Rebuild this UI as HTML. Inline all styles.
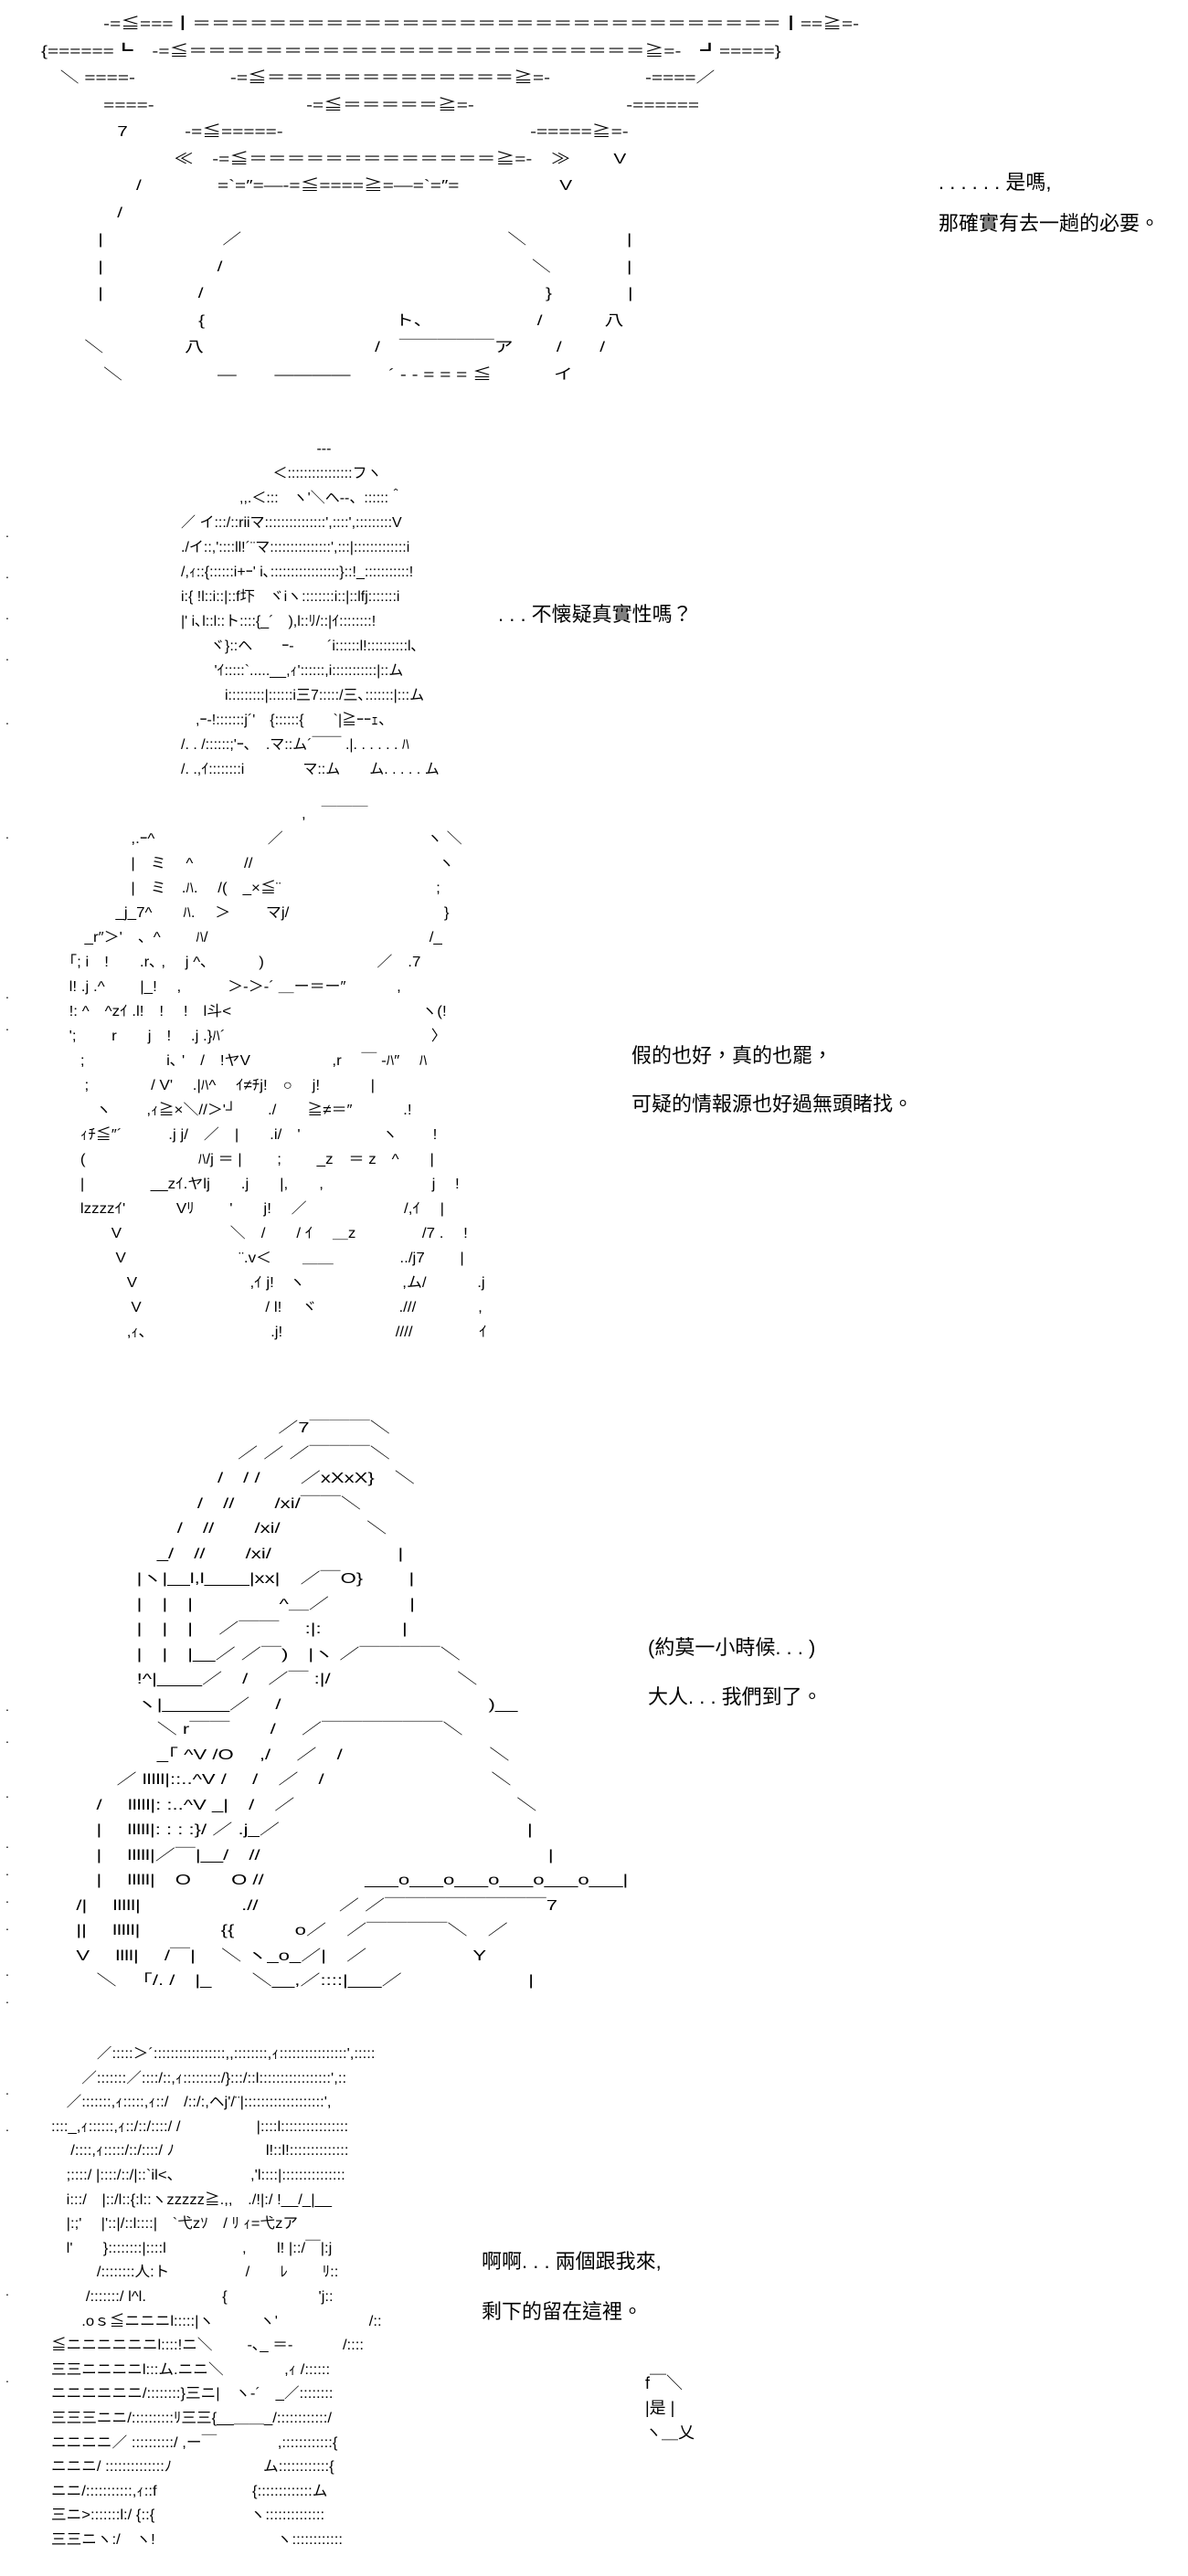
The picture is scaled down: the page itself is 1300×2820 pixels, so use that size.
<!DOCTYPE html>
<html><head><meta charset="utf-8">
<style>
html,body{margin:0;padding:0;background:#fff;}
body{width:1300px;height:2820px;position:relative;overflow:hidden;color:#000;}
pre{position:absolute;margin:0;font-family:"Liberation Sans","Noto Sans CJK JP",sans-serif;font-size:16px;line-height:27px;white-space:pre;transform-origin:0 0;}
.t{position:absolute;font-family:"Liberation Sans","Noto Sans CJK TC",sans-serif;font-size:22px;line-height:26px;white-space:nowrap;}
.d{position:absolute;left:6px;font-family:"Liberation Sans",sans-serif;font-size:14px;}
</style></head><body>

<pre style="left:45px;top:12px;line-height:29.5px;transform:scaleX(1.3);">　　　 -=≦===┃＝＝＝＝＝＝＝＝＝＝＝＝＝＝＝＝＝＝＝＝＝＝＝＝＝＝＝＝＝＝＝┃==≧=-
{======┗　-=≦＝＝＝＝＝＝＝＝＝＝＝＝＝＝＝＝＝＝＝＝＝＝＝＝≧=-　┛=====}
　＼ ====-　　　　　-=≦＝＝＝＝＝＝＝＝＝＝＝＝＝≧=-　　　　　-====／
　　　 ====-　　　　　　　　-=≦＝＝＝＝＝≧=-　　　　　　　　-======
　　　　7　　　-=≦=====-　　　　　　　　　　　　　-=====≧=-
　　　　　　　≪　-=≦＝＝＝＝＝＝＝＝＝＝＝＝＝≧=-　≫　　 V
　　　　　/　　　　=`=″=—-=≦====≧=—=`=″=　　　　　 V
　　　　/
　　　|　　　　　　 ／　　　　　　　　　　　　　　＼　　　　　 |
　　　|　　　　　　/　　　　　　　　　　　　　　　　 ＼　　　　|
　　　|　　　　　/　　　　　　　　　　　　　　　　　　}　　　　|
　　　　　　　　 {　　　　　　　　　　ト、　　　　　　/　　　 八
　　 ＼　　　　 八　　　　　　　　　/　￣￣￣￣￣ア　　 /　　/
　　　 ＼　　　　　—　　————　　´ - - = = = ≦　　　 イ</pre>

<pre style="left:182px;top:478px;">　　　　　　　　　　 ---
　　　　　　　 ＜::::::::::::::::フヽ
　　　　　,,.＜:::　ヽ'＼ヘ--、::::::＾
　／ イ:::/::riiマ:::::::::::::::',::::',:::::::::V
　./イ::,'::::ll!´¨マ:::::::::::::::',:::|:::::::::::::i
　/,ｨ::{::::::i+ｰ' i､:::::::::::::::::}::!_:::::::::::!
　i:{ !l::i::|::f圷　ヾiヽ::::::::i::|::lfj:::::::i
　|' i､l::l::ト::::{_´　),l::ﾘ/::|ｲ::::::::!
　　　ヾ}::ヘ　　ｰ-　　 ´i::::::l!::::::::::l､
　　　 'ｲ:::::`.....__,ｨ'::::::,i:::::::::::|::ム
　　　　i:::::::::|::::::i三7:::::/三､:::::::|:::ム
　　,ｰ-!:::::::j´'　{::::::{　　`|≧ｰｰｪ、
　/. . /::::::;'ｰ､　.マ::ム´￣￣ .|. . . . . . ﾊ
　/. .,ｲ::::::::i　　　　マ::ム　　ム. . . . . ム</pre>

<pre style="left:20px;top:878px;transform:scaleX(1.06);">　　　　　　　　　　　　　　　　　　 ,　￣￣￣
　　　　　　　 ,.ｰ^　　　　　　　 ／　　　　　　　　　 ヽ ＼
　　　　　　　 |　ミ　 ^　　　 //　　　　　　　　　　　　ヽ
　　　　　　　 |　ミ　.ﾊ.　 /(　_×≦¨　　　　　　　　　　;
　　　　　　 _j_7^　　ﾊ.　 ＞　　 マj/　　　　　　　　　　}
　　　　 _r″＞'　、^　　 ﾊ/　　　　　　　　　　　　　　 /_
　　　 ｢; i　!　　.r､ ,　 j ^､　　　 )　　　　　　　 ／　.7
　　　 l! .j .^　　 |_!　 ,　　　＞-＞-´ ＿ー＝ー″　　　 ,
　　　 !: ^　^zｲ .l!　!　 !　l斗<　　　　　　　　　　　　 ヽ(!
　　　 ';　　 r　　j　!　 .j .}ﾊ´　　　　　　　　　　　　　 〉
　　　　;　　　　　 i､ '　/　!ヤV　　　　　 ,r　 ￣ -ﾊ″　 ﾊ
　　　　 ;　　　　/ V'　 .|ﾊ^　 ｲ≠ﾁj!　○　 j!　　　 |
　　　　　ヽ　　 ,ｨ≧×＼//＞'┘　　./　　≧≠＝″　　　 .!
　　　　ｨﾁ≦″´　　　.j j/　／　|　　.i/　'　　　　　 ヽ　　 !
　　　　(　　　　　　　 ﾊ/j ＝ |　　 ;　　 _z　＝ z　^　　|
　　　　|　　　　 __zｲ.ヤlj　　.j　　|,　　,　　　　　　　j　 !
　　　　lzzzzｲ'　　　 Vﾘ　　 '　　j!　 ／　　　　　　 /,ｲ　 |
　　　　　　V　　　　　　　＼　/　　/ ｲ　 ＿z　　　　 /7 .　 !
　　　　　　 V　　　　　　　 ¨.v＜　　＿＿　　　　 ../j7　　 |
　　　　　　　V　　　　　　　 ,ｲ j!　ヽ　　　　　　 ,ム/　　　 .j
　　　　　　　 V　　　　　　　　/ l!　 ヾ　　　　　 .///　　　　,
　　　　　　　,ｨ､　　　　　　　　.j!　　　　　　　 ////　　　　 ｲ</pre>

<pre style="left:-27px;top:1550px;line-height:27.5px;transform:scaleX(1.38);">　　　　　　　　　　　　　　　／7￣￣￣＼
　　　　　　　　　　　　　／ ／ ／￣￣￣＼
　　　　　　　　　　　　/　/ /　　／xXxX}　＼
　　　　　　　　　　　/　//　　/xi/￣￣＼
　　　　　　　　　　/　//　　/xi/　　　　 ＼
　　　　　　　　　_/　//　　/xi/　　　　　　 |
　　　　　　　　|ヽ|__l,l____|xx|　／￣O}　　 |
　　　　　　　　|　|　|　　　　 ^＿／　　　　|
　　　　　　　　|　|　|　 ／￣￣　 :|:　　　　|
　　　　　　　　|　|　|__／ ／￣)　|ヽ ／￣￣￣￣＼
　　　　　　　　!^|____／　/　／￣ :|/　　　　　　 ＼
　　　　　　　　ヽ|______／　 /　　　　　　　　　　 )__
　　　　　　　　　＼ r￣￣　　/　 ／￣￣￣￣￣￣＼
　　　　　　　　　_｢ ^V /O　 ,/　 ／　/　　　　　　　 ＼
　　　　　　　／ lllll|::..^V /　 /　／　/　　　　　　　　 ＼
　　　　　　/　 lllll|: :..^V _|　/　／　　　　　　　　　　　＼
　　　　　　|　 lllll|: : : :}/ ／ .j_／　　　　　　　　　　　　 |
　　　　　　|　 lllll|／￣|__/　//　　　　　　　　　　　　　　 |
　　　　　　|　 lllll|　O　　O //　　　　　___o___o___o___o___o___|
　　　　　/|　 lllll|　　　　　.//　　　　／ ／￣￣￣￣￣￣￣￣7
　　　　　||　 lllll|　　　　{{　　　o／　／￣￣￣￣＼　／
　　　　　V　 llll|　 /￣|　 ＼ ヽ_o_／|　／　　　　　 Y
　　　　　　＼　 ｢/. /　|_　　＼__,／::::|___／　　　　　　 |</pre>

<pre style="left:56px;top:2236px;line-height:26.6px;transform:scaleX(1.04);">　　　／:::::＞´:::::::::::::::::,,::::::::,ｨ::::::::::::::::',:::::
　　／:::::::／::::/::,ｨ:::::::::/}:::/::l:::::::::::::::::',::
　／:::::::,ｨ:::::,ｨ::/　/::/:,ヘj'/¨|:::::::::::::::::::',
::::_,ｨ::::::,ｨ::/::/::::/ /　　　　　|::::l::::::::::::::::
　 /::::,ｨ:::::/::/::::/ ﾉ　　　　　　l!::l!::::::::::::::
　;::::/ |::::/::/|::`il<、　　　　　,'l::::|:::::::::::::::
　i:::/　|::/l::{:l::ヽzzzzz≧.,,　./!|:/ !__/_|__
　|:;'　 |'::|/::l::::|　`弋zｿ　/ ﾘ ｨ=弋zア
　l'　　}::::::::|::::l　　　　　,　　l! |::/￣|:j
　　　/::::::::人:ト　　　　　/　　ﾚ　　 ﾘ::
　　 /:::::::/ l^l.　　　　　{　　　　　　'j::
　　.oｓ≦ニニニl:::::|ヽ　　　ヽ'　　　　　　/::
≦ニニニニニニl::::!ニ＼　　 -､_ ＝-　　　 /::::
三三ニニニニl:::ム.ニニ＼　　　　,ｨ /::::::
ニニニニニニ/::::::::}三ニ|　ヽ-´　_／::::::::
三三三ニニ/::::::::::ﾘ三三{__＿＿_/::::::::::::/
ニニニニ／ ::::::::::/ ,ー￣　　　　,::::::::::::{
ニニニ/ ::::::::::::::ﾉ　　　　　　ム::::::::::::{
ニニ/:::::::::::,ｨ::f　　　　　　 {:::::::::::::ム
三ニ>:::::::l:/ {::{　　　　　　 ヽ::::::::::::::
三三ニヽ:/　ヽ!　　　　　　　　ヽ::::::::::::</pre>

<div class="d" style="top:575px">.</div>
<div class="d" style="top:620px">.</div>
<div class="d" style="top:665px">.</div>
<div class="d" style="top:710px">.</div>
<div class="d" style="top:780px">.</div>
<div class="d" style="top:905px">.</div>
<div class="d" style="top:1080px">.</div>
<div class="d" style="top:1115px">.</div>
<div class="d" style="top:1860px">.</div>
<div class="d" style="top:1895px">.</div>
<div class="d" style="top:1955px">.</div>
<div class="d" style="top:2010px">.</div>
<div class="d" style="top:2040px">.</div>
<div class="d" style="top:2070px">.</div>
<div class="d" style="top:2100px">.</div>
<div class="d" style="top:2150px">.</div>
<div class="d" style="top:2180px">.</div>
<div class="d" style="top:2280px">.</div>
<div class="d" style="top:2320px">.</div>
<div class="d" style="top:2500px">.</div>
<div class="d" style="top:2595px">.</div>

<div class="t" style="left:1027px;top:187px">. . . . . . 是嗎,</div>
<div class="t" style="left:1027px;top:232px">那確實有去一趟的必要。</div>
<div class="t" style="left:545px;top:660px">. . . 不懐疑真實性嗎？</div>
<div class="t" style="left:691px;top:1143px">假的也好，真的也罷，</div>
<div class="t" style="left:691px;top:1196px">可疑的情報源也好過無頭睹找。</div>
<div class="t" style="left:709px;top:1791px">(約莫一小時候. . . )</div>
<div class="t" style="left:709px;top:1845px">大人. . . 我們到了。</div>
<div class="t" style="left:527px;top:2463px">啊啊. . . 兩個跟我來,</div>
<div class="t" style="left:527px;top:2518px">剩下的留在這裡。</div>
<pre style="left:706px;top:2596px;font-size:18px;">f￣＼
|是 |
ヽ＿乂</pre>
</body></html>
